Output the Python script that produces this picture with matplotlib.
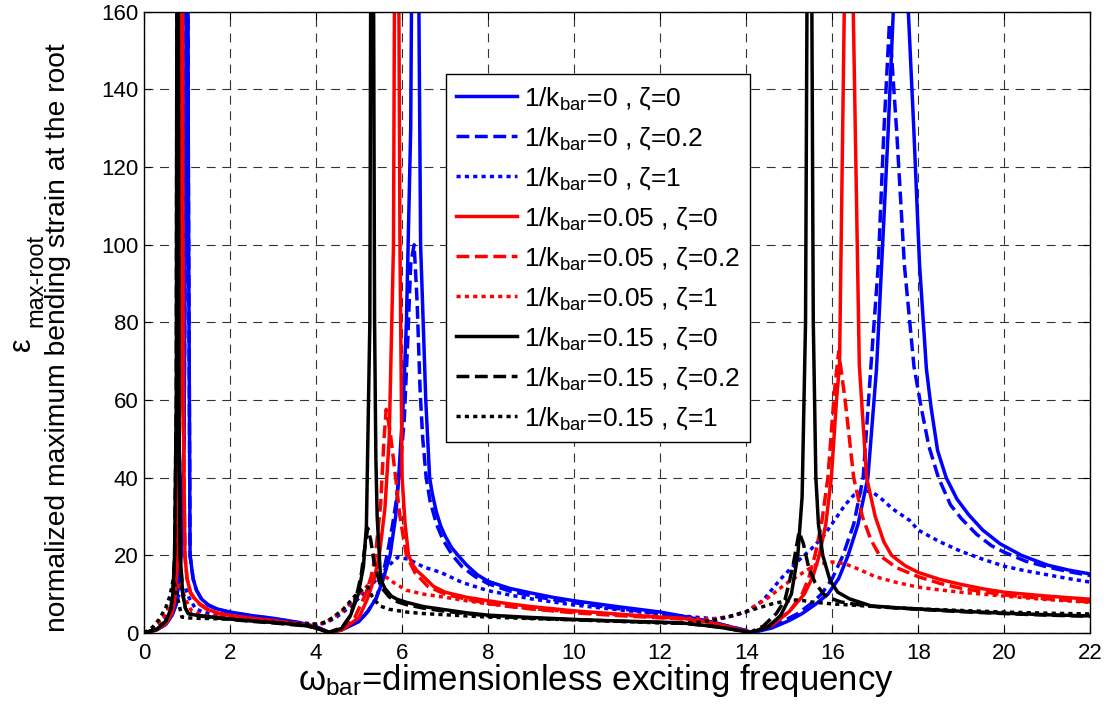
import matplotlib
matplotlib.use('Agg')
import matplotlib.pyplot as plt

plt.rcParams['font.family'] = ['Liberation Sans', 'DejaVu Sans']
plt.rcParams['mathtext.fontset'] = 'custom'
plt.rcParams['mathtext.rm'] = 'Liberation Sans'
plt.rcParams['mathtext.it'] = 'Liberation Sans:italic'
plt.rcParams['mathtext.default'] = 'regular'

# --- digitized curves: omega_bar (x) and normalized root strain (y) ---
# 1/k_bar = 0
x_k0_z0 = [0, 0.3, 0.5, 0.65, 0.75, 0.86, 0.93, 0.97, 1.0, 1.03, 1.07, 1.14, 1.22, 1.34, 1.5, 1.7, 2.0, 2.5,
           3.0, 3.5, 3.8, 4.0, 4.15, 4.33, 4.6, 5.0, 5.2, 5.4, 5.55, 5.72, 5.85, 5.92, 6.03, 6.1, 6.2, 6.3,
           6.43, 6.55, 6.64, 6.7, 6.8, 6.9, 7.0, 7.15, 7.3, 7.5, 7.75, 8, 8.5, 9, 9.5, 10, 11, 12, 12.5,
           13, 13.3, 13.6, 13.9, 14.15, 14.6, 15.0, 15.3, 15.6, 15.9, 16.15, 16.37, 16.6, 16.83, 17.03,
           17.15, 17.3, 17.42, 17.55, 17.77, 17.9, 18.03, 18.19, 18.3, 18.45, 18.65, 18.9, 19.17, 19.5,
           19.9, 20.4, 21, 21.5, 22]
y_k0_z0 = [0, 0.8, 2.2, 4.5, 7.5, 20, 50, 120, 300, 120, 20, 14, 11, 8.7, 7.2, 6.2, 5.4, 4.5,
           3.8, 2.9, 2.2, 1.6, 0.9, 0.1, 0.8, 3, 5.5, 9, 13.5, 20, 30, 40, 60, 80, 130, 300,
           100, 60, 40, 36, 31, 27.5, 25, 22, 20, 17.5, 15, 13.3, 11.5, 10.3, 9.2, 8.3, 6.8, 5.4, 4.4,
           3.3, 2.6, 1.7, 0.9, 0.1, 1.3, 3.2, 5, 7.3, 10, 14, 20, 28, 40, 68,
           95, 129, 160, 300, 160, 129, 95, 68, 58, 47, 40, 34.5, 30.5, 26.5,
           23, 20, 17.5, 16.2, 15.2]

x_k0_z02 = [0, 0.3, 0.5, 0.65, 0.75, 0.86, 0.93, 0.97, 1.0, 1.03, 1.07, 1.14, 1.22, 1.34, 1.5, 1.7, 2.0, 2.5,
            3.0, 3.5, 3.8, 4.0, 4.15, 4.33, 4.6, 5.0, 5.2, 5.4, 5.52, 5.65, 5.78, 5.85, 5.95, 6.05, 6.13,
            6.2, 6.28, 6.35, 6.42, 6.48, 6.56, 6.65, 6.8, 6.95, 7.17, 7.4, 7.7, 8, 8.5, 9, 9.5, 10, 11, 12,
            12.5, 13, 13.3, 13.6, 13.9, 14.15, 14.6, 15.2, 15.5, 15.75, 16.0, 16.25, 16.5, 16.72, 16.9,
            17.07, 17.2, 17.33, 17.5, 17.68, 17.9, 18.07, 18.25, 18.47, 18.75, 19.0, 19.35, 19.7, 20.0,
            20.5, 21, 21.5, 22]
y_k0_z02 = [0, 0.8, 2.2, 4.5, 7.5, 20, 50, 120, 300, 120, 20, 14, 11, 8.6, 7.1, 6.1, 5.3, 4.4,
            3.7, 2.8, 2.2, 1.6, 0.9, 0.2, 0.9, 3, 5.5, 9, 13.5, 20, 28, 33, 42, 55, 75,
            95, 100, 85, 62, 50, 40, 34, 28, 24, 20, 17, 14.5, 12.7, 10.8, 9.6, 8.6, 7.8, 6.3, 5,
            4.2, 3.2, 2.5, 1.7, 0.9, 0.2, 1.6, 5, 7.5, 10, 14, 20, 28, 40, 68.7,
            94.5, 129, 157, 129, 94.5, 68.7, 58, 48, 40, 33, 29.5, 25.5, 22.5, 20.8,
            18.5, 17, 15.8, 14.8]

x_k0_z1 = [0, 0.2, 0.4, 0.55, 0.7, 0.8, 0.88, 0.95, 1.05, 1.2, 1.4, 1.6, 2.0, 2.5, 3.0, 3.5, 3.8, 4.0, 4.15,
           4.3, 4.5, 4.7, 4.9, 5.1, 5.3, 5.5, 5.7, 5.9, 6.15, 6.5, 6.9, 7.4, 8, 8.5, 9, 10, 11, 12, 12.5,
           12.9, 13.25, 13.6, 14, 14.4, 14.8, 15.2, 15.5, 15.8, 16.05, 16.3, 16.5, 16.7, 16.9, 17.1, 17.4,
           17.8, 18, 18.5, 19, 19.5, 20, 20.5, 21, 21.5, 22]
y_k0_z1 = [0, 0.8, 2.5, 4.5, 7, 9.5, 11.5, 12, 9, 6.2, 5.3, 4.8, 4.4, 3.8, 3.3, 2.8, 2.5, 2.2, 2.4,
           3.0, 4.3, 6, 8, 10, 12.5, 15, 17.5, 19.5, 19, 17, 15.6, 13, 10.9, 9.8, 8.8, 7.2, 6, 4.9, 4.4,
           4.0, 3.7, 4.2, 5.4, 8.5, 13.9, 18.5, 21.5, 25, 29, 33, 35.5, 36.5, 36.5, 35, 32,
           29, 26.5, 23.5, 21, 19, 17.2, 16, 15, 14, 13.1]

# 1/k_bar = 0.05
x_k05_z0 = [0, 0.3, 0.5, 0.65, 0.72, 0.78, 0.83, 0.87, 0.91, 0.95, 1.0, 1.08, 1.19, 1.3, 1.5, 1.7, 2.0, 2.5,
            3.0, 3.5, 3.8, 4.0, 4.15, 4.3, 4.6, 5.0, 5.2, 5.35, 5.47, 5.6, 5.7, 5.8, 5.87, 5.95, 6.0,
            6.07, 6.15, 6.25, 6.35, 6.48, 6.73, 7, 7.5, 8, 8.5, 9, 10, 11, 12, 12.5, 13, 13.3, 13.6, 13.9,
            14.1, 14.6, 15.0, 15.35, 15.55, 15.7, 15.85, 15.98, 16.1, 16.17, 16.28, 16.38, 16.49, 16.63,
            16.8, 17.0, 17.2, 17.38, 17.7, 18, 18.5, 19, 19.5, 20, 21, 22]
y_k05_z0 = [0, 0.9, 2.4, 5, 9, 20, 60, 300, 60, 20, 14, 10.5, 8.7, 7.5, 6, 5.2, 4.5, 3.8,
            3.2, 2.5, 1.9, 1.3, 0.7, 0.1, 0.8, 4, 9, 14, 20, 32, 50, 100, 300, 100, 40,
            28, 20, 17.5, 16, 14.7, 12, 10.5, 9.2, 8.3, 7.5, 6.8, 5.7, 4.9, 4.1, 3.8, 3.0, 2.4, 1.5, 0.7,
            0.1, 2, 5.5, 10, 14.5, 20, 28, 40, 60, 69, 160, 300, 160, 69,
            40, 30, 23.5, 20, 17.3, 15.6, 13.8, 12.5, 11.4, 10.5, 9.5, 8.7]

x_k05_z02 = [0, 0.3, 0.5, 0.65, 0.72, 0.78, 0.83, 0.87, 0.91, 0.95, 1.0, 1.08, 1.19, 1.3, 1.5, 1.7, 2.0,
             2.5, 3.0, 3.5, 3.8, 4.0, 4.15, 4.3, 4.6, 4.9, 5.15, 5.28, 5.38, 5.5, 5.58, 5.63, 5.72, 5.85,
             5.95, 6.1, 6.3, 6.6, 7, 7.5, 8, 8.5, 9, 10, 11, 12, 12.5, 13, 13.3, 13.6, 13.9, 14.1, 14.6,
             15.0, 15.3, 15.45, 15.6, 15.75, 15.9, 16.05, 16.15, 16.3, 16.5, 16.7, 16.9, 17.1, 17.5, 18,
             18.5, 19, 20, 21, 22]
y_k05_z02 = [0, 0.9, 2.4, 5, 9, 20, 60, 300, 60, 20, 14, 10.3, 8.5, 7.3, 5.8, 5.0, 4.4,
             3.7, 3.1, 2.4, 1.9, 1.3, 0.7, 0.2, 0.9, 4, 10, 14.5, 20, 33, 50, 57.6, 52, 40,
             30, 20, 15.5, 12, 10, 8.7, 7.6, 6.8, 6.2, 5.2, 4.5, 3.9, 3.6, 2.9, 2.3, 1.5, 0.7, 0.2, 2.2,
             5.5, 10, 14, 20, 28, 40, 62, 72.5, 60, 40, 30, 24, 20, 16.8, 14.5,
             12.8, 11.5, 9.8, 8.8, 8]

x_k05_z1 = [0, 0.2, 0.4, 0.6, 0.7, 0.78, 0.85, 0.95, 1.1, 1.3, 1.5, 2.0, 2.5, 3.0, 3.5, 3.8, 4.0, 4.15, 4.3,
            4.5, 4.7, 4.9, 5.1, 5.3, 5.45, 5.6, 5.8, 6.1, 6.5, 7, 7.5, 8, 9, 10, 11, 12, 12.5, 12.9, 13.25,
            13.6, 14, 14.5, 14.9, 15.2, 15.6, 16, 16.3, 16.6, 17, 17.5, 18, 18.5, 19, 20, 21, 22]
y_k05_z1 = [0, 1, 3, 7, 9.5, 12, 13, 9, 5.8, 4.8, 4.3, 4.0, 3.5, 3.0, 2.6, 2.3, 2.2, 2.5, 3.3,
            4.8, 6.5, 8.8, 11, 13.5, 14.8, 14.6, 13, 11, 10, 9.2, 8.3, 7.5, 6.3, 5.4, 4.7, 4.0, 3.8, 3.6,
            3.6, 4.2, 5.5, 9, 12.5, 14.7, 17.5, 18.3, 17.8, 16.5, 14.5, 13, 11.8, 11.1, 10.5, 9.5, 8.6, 7.9]

# 1/k_bar = 0.15
x_k15_z0 = [0, 0.3, 0.5, 0.62, 0.67, 0.71, 0.75, 0.78, 0.81, 0.84, 0.9, 0.96, 1.03, 1.2, 1.5, 2.0, 2.5,
            3.0, 3.5, 3.8, 4.0, 4.15, 4.3, 4.6, 4.8, 4.98, 5.1, 5.17, 5.25, 5.3, 5.36, 5.39, 5.42, 5.5,
            5.6, 5.75, 5.88, 6.1, 6.5, 7, 7.5, 8, 9, 10, 11, 12, 12.5, 13, 13.3, 13.6, 13.9, 14.1, 14.5,
            14.8, 15.05, 15.2, 15.3, 15.38, 15.47, 15.56, 15.62, 15.68, 15.78, 15.95, 16.13, 16.4, 16.9,
            17.5, 18, 19, 20, 21, 22]
y_k15_z0 = [0, 1.0, 3, 6, 10, 20, 60, 300, 60, 20, 10, 6.5, 5, 4.6, 4.2, 3.6, 3.1,
            2.7, 2.2, 1.8, 1.3, 0.7, 0.1, 1.2, 4.5, 10, 17, 27.5, 80, 300, 80, 45, 30, 13.9,
            11.5, 9.5, 8.7, 7.9, 6.8, 6.0, 5.2, 4.6, 4.0, 3.5, 3.1, 2.8, 2.6, 2.0, 1.6, 1.1, 0.5, 0.1, 1.5,
            4.5, 10, 20, 35, 80, 300, 80, 40, 28, 20, 13.5, 10.5, 8.8, 7,
            6.5, 6.2, 5.6, 5.1, 4.7, 4.4]

x_k15_z02 = [0, 0.3, 0.5, 0.62, 0.67, 0.71, 0.75, 0.78, 0.81, 0.84, 0.9, 0.96, 1.03, 1.2, 1.5, 2.0, 2.5,
             3.0, 3.5, 3.8, 4.0, 4.15, 4.3, 4.6, 4.8, 4.95, 5.05, 5.12, 5.2, 5.27, 5.35, 5.5, 5.7, 5.9, 6.1,
             6.5, 7, 8, 9, 10, 12, 12.5, 13, 13.3, 13.6, 13.9, 14.1, 14.4, 14.7, 14.9, 15.0, 15.1, 15.23,
             15.33, 15.45, 15.6, 15.8, 16.0, 16.2, 16.6, 17, 18, 19, 20, 21, 22]
y_k15_z02 = [0, 1.0, 3, 6, 10, 20, 60, 300, 60, 20, 10, 6.4, 5, 4.5, 4.1, 3.5, 3.0,
             2.6, 2.1, 1.8, 1.3, 0.7, 0.2, 1.4, 4.5, 10, 15, 21, 27, 24, 18, 12, 9.3, 8, 7.3,
             6.4, 5.6, 4.4, 3.8, 3.4, 2.7, 2.5, 2.0, 1.6, 1.1, 0.5, 0.2, 1.8, 5, 8.5, 13, 18, 26,
             23, 17, 13, 10, 8.8, 8, 7.3, 6.8, 6.1, 5.5, 5.0, 4.6, 4.3]

x_k15_z1 = [0, 0.2, 0.35, 0.5, 0.6, 0.68, 0.74, 0.8, 0.88, 1.0, 1.2, 1.6, 2.0, 2.5, 3.0, 3.5, 3.7, 4.0, 4.15,
            4.3, 4.45, 4.64, 4.9, 5.1, 5.2, 5.3, 5.4, 5.5, 5.7, 6.1, 6.5, 7, 8, 9, 10, 11, 12, 12.5, 12.9,
            13.25, 13.6, 14, 14.3, 14.6, 14.9, 15.1, 15.3, 15.5, 16, 17, 18, 19, 20, 21, 22]
y_k15_z1 = [0, 1.5, 3.5, 6.4, 9.5, 13.8, 11.5, 8, 4.1, 3.9, 3.8, 3.7, 3.6, 3.2, 2.8, 2.4, 2.3, 2.3, 2.6,
            3.3, 4.5, 6.2, 9.5, 11.5, 11.8, 9.5, 8, 6.9, 6.1, 5.4, 5.0, 4.7, 4.1, 3.7, 3.4, 3.0, 2.6, 2.5, 2.8,
            3.3, 4.2, 5.5, 6.5, 7.5, 8.2, 8.5, 8.4, 8, 7.5, 6.8, 6.2, 5.8, 5.4, 5.1, 4.9]

series = [
    (x_k0_z0, y_k0_z0, 'blue', '-', r'1/k$_{bar}$=0 , ζ=0'),
    (x_k0_z02, y_k0_z02, 'blue', '--', r'1/k$_{bar}$=0 , ζ=0.2'),
    (x_k0_z1, y_k0_z1, 'blue', ':', r'1/k$_{bar}$=0 , ζ=1'),
    (x_k05_z0, y_k05_z0, 'red', '-', r'1/k$_{bar}$=0.05 , ζ=0'),
    (x_k05_z02, y_k05_z02, 'red', '--', r'1/k$_{bar}$=0.05 , ζ=0.2'),
    (x_k05_z1, y_k05_z1, 'red', ':', r'1/k$_{bar}$=0.05 , ζ=1'),
    (x_k15_z0, y_k15_z0, 'black', '-', r'1/k$_{bar}$=0.15 , ζ=0'),
    (x_k15_z02, y_k15_z02, 'black', '--', r'1/k$_{bar}$=0.15 , ζ=0.2'),
    (x_k15_z1, y_k15_z1, 'black', ':', r'1/k$_{bar}$=0.15 , ζ=1'),
]

x_ticks = list(range(0, 23, 2))
y_ticks = list(range(0, 161, 20))

fig = plt.figure(figsize=(11.08, 7.06), dpi=100)
ax = fig.add_axes([0.130, 0.1034, 0.854, 0.880])

for xs, ys, color, ls, label in series:
    style = (0, (1.2, 1.2)) if ls == ':' else ls
    ax.plot(xs, ys, color=color, linestyle=style, linewidth=2.5, label=label)

ax.set_xlim(0, 22)
ax.set_ylim(0, 160)
ax.set_xticks(x_ticks)
ax.set_yticks(y_ticks)
ax.grid(True, color='0.2', linewidth=0.8, linestyle=(0, (8, 6)))
ax.tick_params(direction='in', length=5, top=True, right=True, labelsize=16)
ax.tick_params(axis='x', pad=7)
ax.tick_params(axis='y', pad=4)
for sp in ax.spines.values():
    sp.set_linewidth(1.0)

leg = ax.legend(loc='upper left', bbox_to_anchor=(0.319, 0.899), fontsize=19, frameon=True,
                fancybox=False, edgecolor='black', framealpha=1, handlelength=2.3,
                labelspacing=0.5, borderpad=0.4, handletextpad=0.25, borderaxespad=0)
leg.get_frame().set_linewidth(1.0)

# axis labels placed like the original
fig.text(596 / 1108, 1 - 690 / 706, r'ω$_{bar}$=dimensionless exciting frequency',
         ha='center', va='baseline', fontsize=25)
fig.text(58 / 1108, 1 - 338 / 706, 'normalized maximum bending strain at the root',
         ha='center', va='center', rotation=90, fontsize=20.3)
fig.text(22 / 1108, 1 - 344 / 706, 'ε', ha='center', va='center', rotation=90, fontsize=22)
fig.text(36 / 1108, 1 - 280 / 706, 'max-root', ha='center', va='center', rotation=90, fontsize=17)

fig.savefig('out.png', dpi=100)
